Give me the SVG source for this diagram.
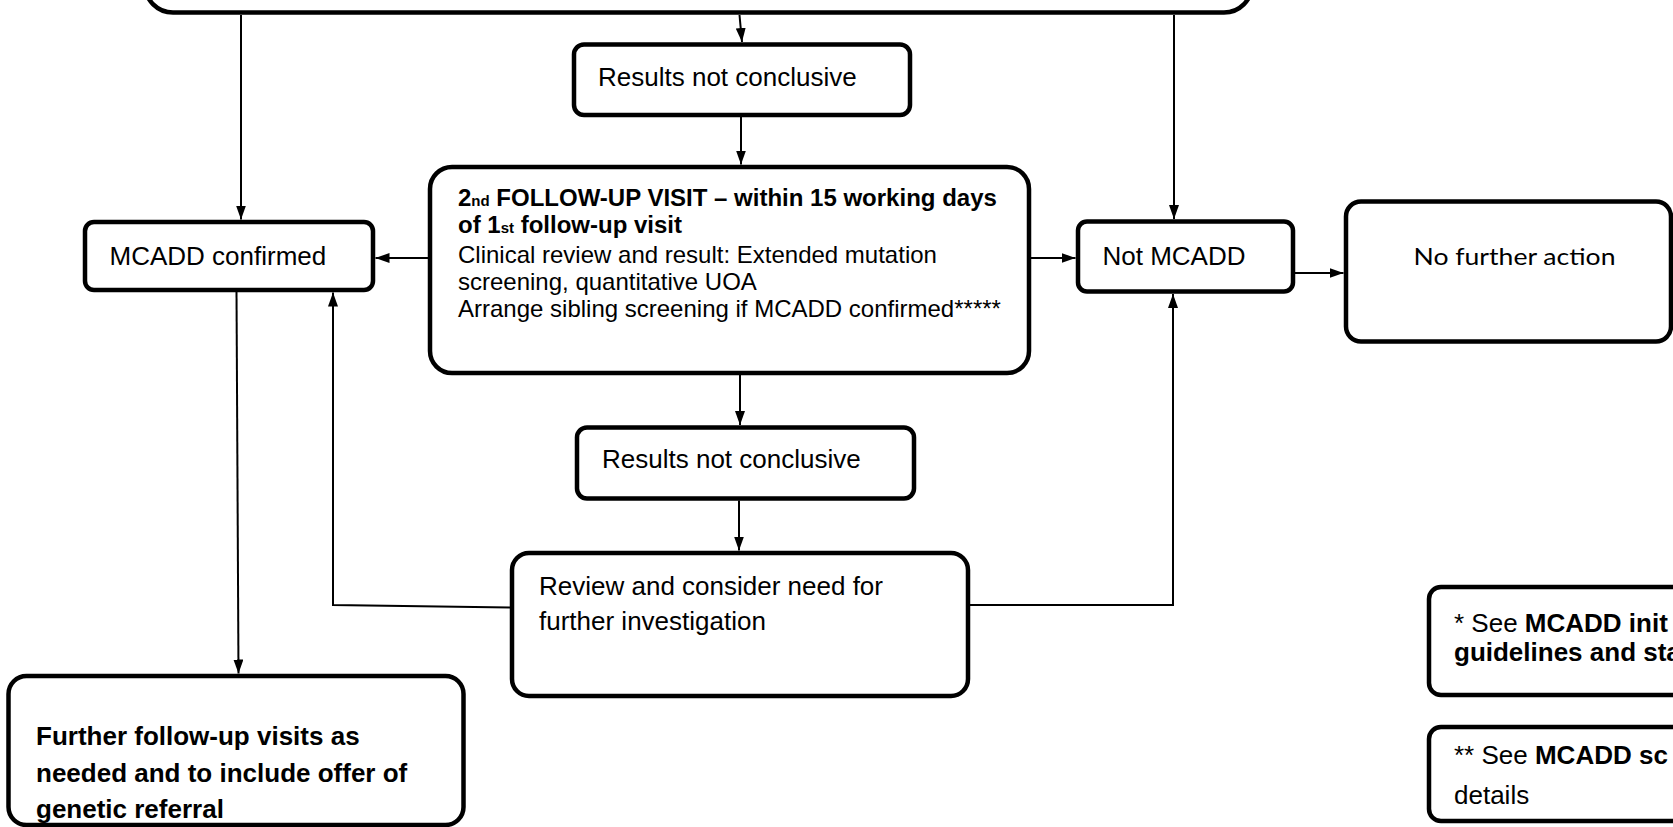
<svg xmlns="http://www.w3.org/2000/svg" width="1673" height="827" viewBox="0 0 1673 827">
<defs>
<marker id="arr" viewBox="0 0 14 10" refX="14" refY="5" markerWidth="14" markerHeight="10" markerUnits="userSpaceOnUse" orient="auto"><path d="M0,0 L14,5 L0,10 z" fill="#000"/></marker>
<style>
.box{fill:#fff;stroke:#000;stroke-width:4.5}
.t{font-family:"Liberation Sans",Arial,sans-serif;font-size:26px;fill:#000}
.s{font-size:24px}
.b{font-weight:bold}
.c{fill:none;stroke:#000;stroke-width:2}
.a{marker-end:url(#arr)}
</style>
</defs>
<rect width="1673" height="827" fill="#fff"/>

<g id="top-box"><rect class="box" x="145" y="-60" width="1107" height="72.5" rx="28"/></g>

<g id="results1"><rect class="box" x="574" y="44.5" width="336" height="70.5" rx="10"/>
<text class="t" x="598" y="86">Results not conclusive</text></g>

<g id="mcadd-confirmed"><rect class="box" x="85" y="222" width="288" height="68" rx="9"/>
<text class="t" x="109.5" y="265">MCADD confirmed</text></g>

<g id="second-visit"><rect class="box" x="430" y="167" width="599" height="206" rx="22"/>
<text class="t s b" x="458" y="206">2<tspan font-size="15">nd</tspan> FOLLOW-UP VISIT – within 15 working days</text>
<text class="t s b" x="458" y="233">of 1<tspan font-size="15">st</tspan> follow-up visit</text>
<text class="t s" x="458" y="263">Clinical review and result: Extended mutation</text>
<text class="t s" x="458" y="290">screening, quantitative UOA</text>
<text class="t s" x="458" y="317">Arrange sibling screening if MCADD confirmed*****</text></g>

<g id="not-mcadd"><rect class="box" x="1078" y="221.5" width="215" height="70" rx="9"/>
<text class="t" x="1102.5" y="264.5">Not MCADD</text></g>

<g id="no-further-action"><rect class="box" x="1346" y="201.5" width="325" height="140" rx="15"/>
<text x="1413.5" y="265" font-family="Lato, 'Open Sans', sans-serif" font-size="24" textLength="202" lengthAdjust="spacingAndGlyphs">No further action</text></g>

<g id="results2"><rect class="box" x="577" y="427.5" width="337" height="71" rx="10"/>
<text class="t" x="602" y="468">Results not conclusive</text></g>

<g id="review"><rect class="box" x="512" y="553" width="456" height="143" rx="17"/>
<text class="t" x="539" y="595">Review and consider need for</text>
<text class="t" x="539" y="630">further investigation</text></g>

<g id="further-visits"><rect class="box" x="8.5" y="676" width="455" height="149" rx="18"/>
<text class="t b" x="36" y="745">Further follow-up visits as</text>
<text class="t b" x="36" y="782">needed and to include offer of</text>
<text class="t b" x="36" y="818">genetic referral</text></g>

<g id="footnote1"><rect class="box" x="1429" y="587" width="300" height="108" rx="12"/>
<text class="t" x="1454" y="632">* See <tspan class="b">MCADD init</tspan></text>
<text class="t b" x="1454" y="661">guidelines and sta</text></g>

<g id="footnote2"><rect class="box" x="1429" y="727" width="300" height="94" rx="12"/>
<text class="t" x="1454" y="764">** See <tspan class="b">MCADD sc</tspan></text>
<text class="t" x="1454" y="804">details</text></g>

<g id="connectors">
<path class="c a" d="M241,15 L241,219.5"/>
<path class="c a" d="M739.5,15 L742,42"/>
<path class="c a" d="M1174,15 L1174,219"/>
<path class="c a" d="M741,117 L741,164.5"/>
<path class="c a" d="M428,258 L375.5,258"/>
<path class="c a" d="M1031,258 L1075.5,258"/>
<path class="c a" d="M1295,273 L1343.5,273"/>
<path class="c a" d="M740,375 L740,425"/>
<path class="c a" d="M739,500.5 L739,550.5"/>
<path class="c a" d="M510,607.5 L333,605 L333,292.5"/>
<path class="c a" d="M970,605 L1173,605 L1173,294"/>
<path class="c a" d="M236.5,292 L238.5,673.5"/>
</g>
</svg>
